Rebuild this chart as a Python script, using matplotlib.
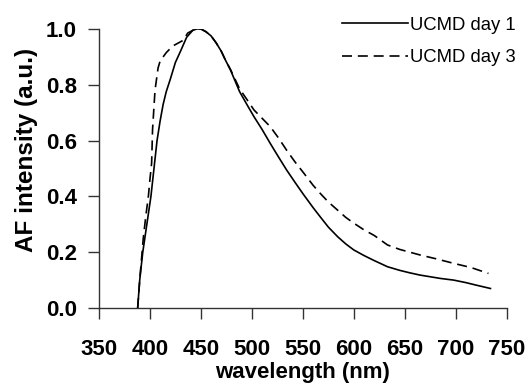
import matplotlib.pyplot as plt

plt.rcParams['font.family'] = ['Liberation Sans', 'DejaVu Sans']

# UCMD day 1 (solid)
wl_day1 = [388, 390, 393, 397, 401, 404, 407, 410, 413, 416, 420, 425, 430, 436,
           442, 446, 450, 455, 460, 465, 470, 474, 479, 488, 495, 502, 510, 518,
           526, 534, 542, 550, 560, 567, 575, 584, 592, 600, 610, 620, 633, 645,
           655, 665, 675, 685, 698, 710, 720, 734]
af_day1 = [0.0, 0.1, 0.2, 0.3, 0.4, 0.5, 0.6, 0.67, 0.73, 0.775, 0.82, 0.88, 0.92, 0.97,
           0.995, 1.0, 1.0, 0.99, 0.975, 0.95, 0.92, 0.889, 0.853, 0.775, 0.73, 0.686,
           0.64, 0.59, 0.542, 0.495, 0.452, 0.41, 0.36, 0.327, 0.29, 0.256, 0.23, 0.208,
           0.188, 0.17, 0.148, 0.135, 0.126, 0.118, 0.112, 0.106, 0.1, 0.091, 0.082, 0.07]

# UCMD day 3 (dashed)
wl_day3 = [388, 390, 393.5, 396, 398.5, 400, 401.7, 402.6, 405, 408, 410, 413, 416,
           420, 423, 428, 433, 437, 442, 446, 450, 455, 460, 465, 470, 474, 479, 488,
           495, 502, 510, 518, 526, 534, 542, 551, 560, 567, 575, 584, 592, 600, 610,
           620, 633, 645, 655, 665, 680, 698, 715, 732]
af_day3 = [0.0, 0.1, 0.25, 0.33, 0.4, 0.46, 0.52, 0.64, 0.78, 0.86, 0.885, 0.9, 0.915,
           0.93, 0.94, 0.95, 0.96, 0.985, 0.995, 1.0, 1.0, 0.99, 0.975, 0.95, 0.92, 0.889,
           0.855, 0.785, 0.748, 0.71, 0.68, 0.65, 0.61, 0.566, 0.525, 0.483, 0.44, 0.411,
           0.38, 0.351, 0.325, 0.304, 0.28, 0.26, 0.226, 0.21, 0.2, 0.19, 0.177, 0.16,
           0.145, 0.124]

x_ticks = [350, 400, 450, 500, 550, 600, 650, 700, 750]
y_ticks = [0.0, 0.2, 0.4, 0.6, 0.8, 1.0]


def main():
  fig = plt.figure(figsize=(5.29, 3.86), dpi=100)
  ax = fig.add_axes([0.187, 0.202, 0.771, 0.723])

  ax.plot(wl_day1, af_day1, color='black', lw=1.2, label='UCMD day 1')
  ax.plot(wl_day3, af_day3, color='black', lw=1.2, ls=(0, (6, 3.5)), label='UCMD day 3')

  ax.set_xlim(350, 750)
  ax.set_ylim(0, 1.0)
  ax.set_xticks(x_ticks)
  ax.set_yticks(y_ticks)
  ax.set_yticklabels(['%.1f' % v for v in y_ticks])

  for side in ('top', 'right'):
    ax.spines[side].set_visible(False)
  for side in ('left', 'bottom'):
    ax.spines[side].set_color('#333333')
    ax.spines[side].set_linewidth(1.0)

  ax.tick_params(direction='out', length=8, width=1.0, color='#333333', labelsize=16)
  ax.tick_params(axis='x', pad=14)
  ax.tick_params(axis='y', pad=8)
  for lab in ax.get_xticklabels() + ax.get_yticklabels():
    lab.set_fontweight('bold')

  ax.set_xlabel('wavelength (nm)', fontsize=16, fontweight='bold', labelpad=2)
  ax.set_ylabel('AF intensity (a.u.)', fontsize=17.5, fontweight='bold')
  ax.yaxis.set_label_coords(-0.15, 0.565)

  ax.legend(loc='upper left', bbox_to_anchor=(0.646, 0.957),
            bbox_transform=fig.transFigure, frameon=False,
            fontsize=13.3, handlelength=3.6, handletextpad=0.1, labelspacing=0.85,
            borderaxespad=0, borderpad=0)

  fig.savefig('out.png', dpi=100)


if __name__ == "__main__":
  main()
